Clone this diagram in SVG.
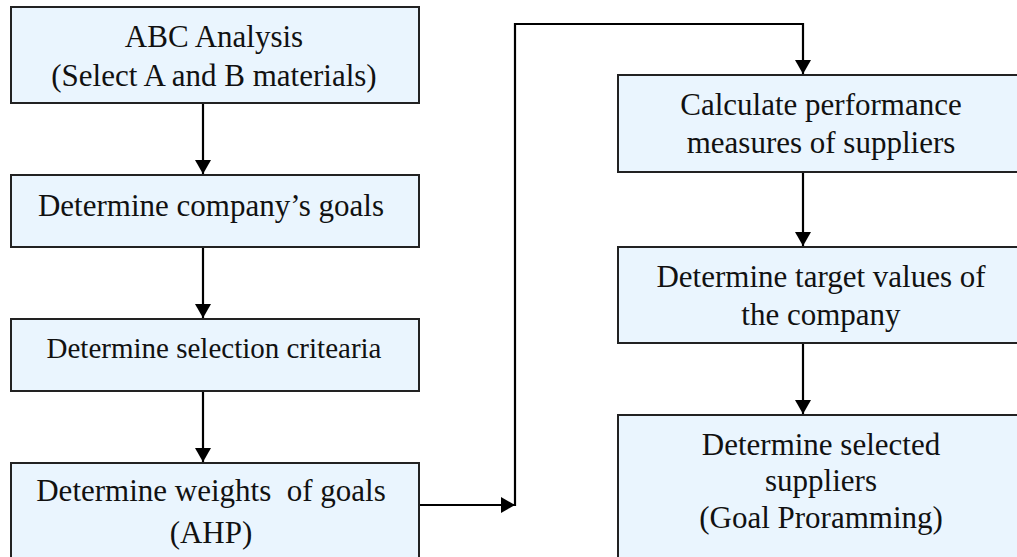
<svg xmlns="http://www.w3.org/2000/svg" width="1017" height="557" viewBox="0 0 1017 557">
<style>
.box{fill:#EAF5FE;stroke:#222;stroke-width:2}
.t{font-family:'Liberation Serif','Times New Roman',Tinos,'DejaVu Serif',serif;font-size:31px;fill:#111;text-anchor:middle;white-space:pre}
.s{font-size:29px}
.c{fill:none;stroke:#000;stroke-width:2.2}
</style>
<defs>
<marker id="ah" markerUnits="userSpaceOnUse" viewBox="0 0 14 16" markerWidth="14" markerHeight="16" refX="14" refY="8" orient="auto">
<path d="M0,0 L14,8 L0,16 z" fill="#000"/>
</marker>
</defs>
<rect width="1017" height="557" fill="#fff"/>
<g id="connectors">
<path class="c" d="M203,103 V174" marker-end="url(#ah)"/>
<path class="c" d="M203,247 V318" marker-end="url(#ah)"/>
<path class="c" d="M203,391 V462" marker-end="url(#ah)"/>
<path class="c" d="M419,505 H515" marker-end="url(#ah)"/>
<path class="c" d="M515,506 V24 H803 V74" marker-end="url(#ah)"/>
<path class="c" d="M803,172 V246" marker-end="url(#ah)"/>
<path class="c" d="M803,343 V414" marker-end="url(#ah)"/>
</g>
<g id="n1">
<rect class="box" x="11" y="7" width="408" height="96"/>
<text class="t" x="214" y="47" font-family="Liberation Serif">ABC Analysis</text>
<text class="t" x="214" y="86" font-family="Liberation Serif">(Select A and B materials)</text>
</g>
<g id="n2">
<rect class="box" x="11" y="175" width="408" height="72"/>
<text class="t" x="211" y="216">Determine company’s goals</text>
</g>
<g id="n3">
<rect class="box" x="11" y="319" width="408" height="72"/>
<text class="t s" x="214" y="358">Determine selection critearia</text>
</g>
<g id="n4">
<rect class="box" x="11" y="463" width="408" height="100"/>
<text class="t" x="211" y="501">Determine weights  of goals</text>
<text class="t" x="211" y="543">(AHP)</text>
</g>
<g id="n5">
<rect class="box" x="618" y="75" width="410" height="97"/>
<text class="t" x="821" y="115">Calculate performance</text>
<text class="t" x="821" y="153">measures of suppliers</text>
</g>
<g id="n6">
<rect class="box" x="618" y="247" width="410" height="96"/>
<text class="t" x="821" y="287">Determine target values of</text>
<text class="t" x="821" y="325">the company</text>
</g>
<g id="n7">
<rect class="box" x="618" y="415" width="410" height="150"/>
<text class="t" x="821" y="455">Determine selected</text>
<text class="t" x="821" y="491">suppliers</text>
<text class="t" x="821" y="528">(Goal Proramming)</text>
</g>
</svg>
